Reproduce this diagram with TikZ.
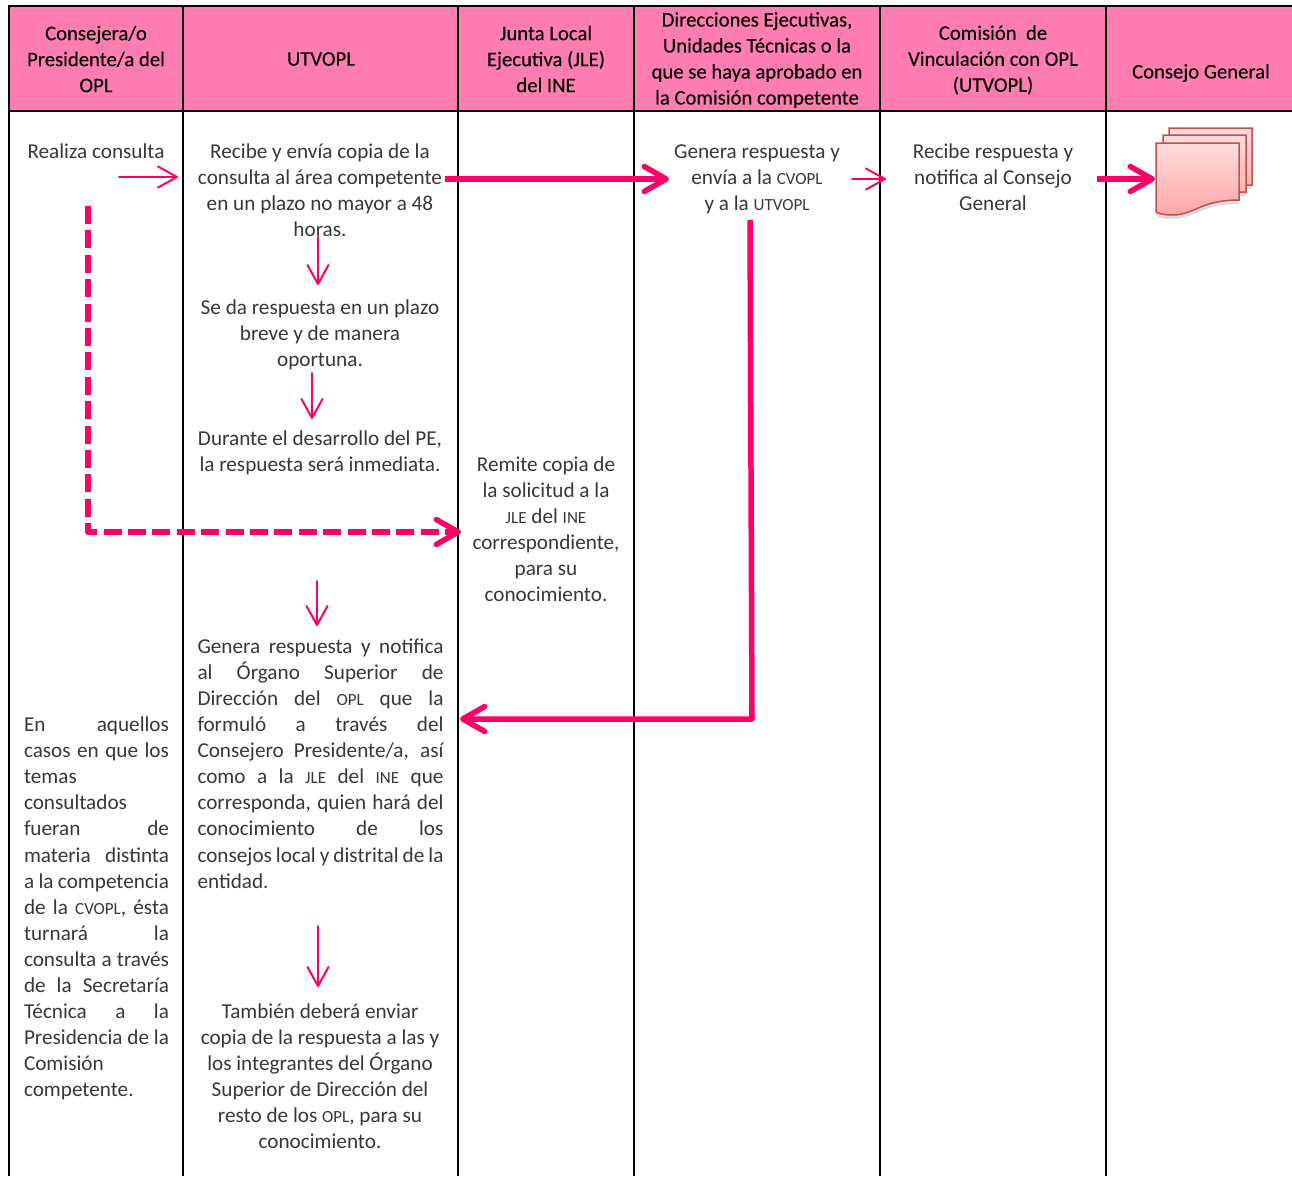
\documentclass[tikz,border=0pt]{standalone}
\usepackage{fontspec}
\setmainfont{Carlito}
\newfontfamily\headfont[FakeBold=0.15]{Carlito}
\usetikzlibrary{arrows.meta}
\usetikzlibrary{shadows}
\definecolor{headpink}{HTML}{FF7DB0}
\definecolor{arrowpink}{HTML}{FF0066}
\definecolor{bodygrey}{HTML}{383838}
\definecolor{pageedge}{HTML}{C0504D}
\definecolor{pagetop}{HTML}{FFDCDC}
\definecolor{pagebot}{HTML}{FFA6A6}
\newcommand{\sm}[1]{{\fontsize{17}{26}\selectfont #1}}
\tikzset{
  headtxt/.style={align=center,inner sep=0pt,text=black,font=\headfont\fontsize{20.7}{26}\selectfont},
  bodytxt/.style={align=center,inner sep=0pt,text=bodygrey,font=\fontsize{21.2}{26.1}\selectfont},
  justtxt/.style={inner sep=0pt,text=bodygrey,font=\fontsize{21.2}{26.07}\selectfont,align=justify},
  gridline/.style={black,line width=2.2pt},
  thinarrow/.style={arrowpink,line width=2pt,line cap=round,-{Straight Barb[length=19pt,width=21pt,round]}},
  thickarrow/.style={arrowpink,line width=5.5pt,line join=round,-{Straight Barb[length=22pt,width=25pt,round]}},
  docpage/.style={draw=pageedge,line width=1.5pt,top color=pagetop,bottom color=pagebot,drop shadow={shadow xshift=0pt,shadow yshift=-4pt,opacity=0.14,fill=black}},
}
\def\docshape{(1156,143) -- (1239,143) -- (1239,200) .. controls (1200,200) and (1195,215) .. (1172,215) .. controls (1165,215) and (1160,214) .. (1156,212) -- cycle}
\begin{document}
\begin{tikzpicture}[x=1pt,y=-1pt]
\useasboundingbox (0,0) rectangle (1292,1176);
\clip (0,0) rectangle (1292,1176);
\fill [white] (0,0) rectangle (1292,1176);

% header band and grid
\fill [headpink] (9,6) rectangle (1292,111);
\draw [gridline] (1292,6) -- (9,6) -- (9,1176);
\draw [gridline] (9,111) -- (1292,111);
\draw [gridline] (183,6) -- (183,1176);
\draw [gridline] (458,6) -- (458,1176);
\draw [gridline] (634,6) -- (634,1176);
\draw [gridline] (880,6) -- (880,1176);
\draw [gridline] (1106,6) -- (1106,1176);

\node [headtxt, name=h1] at (96,59) {Consejera/o\\Presidente/a del\\OPL};
\node [headtxt, name=h2] at (321,59) {UTVOPL};
\node [headtxt, name=h3] at (546,59) {Junta Local\\Ejecutiva (JLE)\\del INE};
\node [headtxt, name=h4] at (757,60) {Direcciones Ejecutivas,\\Unidades Técnicas o la\\que se haya aprobado en\\la Comisión competente};
\node [headtxt, name=h5] at (993,60) {Comisión\ \ de\\Vinculación con OPL\\(UTVOPL)};
\node [headtxt, name=h6] at (1201,73) {Consejo General};

\node [bodytxt, name=t1] at (96,151) {Realiza consulta};
\node [justtxt, text width=145pt, name=t2] at (96.5,908.5) {En aquellos\linebreak casos en que los\linebreak temas\\consultados\\fueran de\linebreak materia distinta\linebreak a la competencia\linebreak de la \sm{CVOPL}, ésta\linebreak turnará la\linebreak consulta a través\linebreak de la Secretaría\linebreak Técnica a la\linebreak \hbox to 145pt{Presidencia\hfil de\hfil la}\\Comisión\\competente.};
\node [bodytxt, name=u1] at (320,190) {Recibe y envía copia de la\\consulta al área competente\\en un plazo no mayor a 48\\horas.};
\node [bodytxt, name=u2] at (320,335) {Se da respuesta en un plazo\\breve y de manera\\oportuna.};
\node [bodytxt, name=u3] at (320,452.5) {Durante el desarrollo del PE,\\la respuesta será inmediata.};
\node [justtxt, text width=246pt, name=u4] at (320.5,763.5) {Genera respuesta y notifica\linebreak al Órgano Superior de\linebreak Dirección del \sm{OPL} que la\linebreak formuló a través del\linebreak Consejero Presidente/a, así\linebreak como a la \sm{JLE} del \sm{INE} que\linebreak corresponda, quien hará del\linebreak conocimiento de los\linebreak \hbox to 246pt{consejos\hfil local\hfil y\hfil distrital\hfil de\hfil la}\\entidad.};
\node [bodytxt, name=u5] at (320,1076) {También deberá enviar\\copia de la respuesta a las y\\los integrantes del Órgano\\Superior de Dirección del\\resto de los \sm{OPL}, para su\\conocimiento.};
\node [bodytxt, name=j1] at (546,529) {Remite copia de\\la solicitud a la\\\sm{JLE} del \sm{INE}\\correspondiente,\\para su\\conocimiento.};
\node [bodytxt, name=d1] at (757,179) {Genera respuesta y\\envía a la \sm{CVOPL}\\y a la \sm{UTVOPL}};
\node [bodytxt, name=c1] at (993,177) {Recibe respuesta y\\notifica al Consejo\\General};

% stacked document
\begin{scope}[shift={(13,-15)}]
\draw [docpage] \docshape;
\end{scope}
\begin{scope}[shift={(7,-8)}]
\draw [docpage] \docshape;
\end{scope}
\draw [docpage] \docshape;

% free ends of the arrows
\coordinate (a1) at (119,177);
\coordinate (a2) at (178,177);
\coordinate (b1) at (445,179);
\coordinate (b2) at (669,179);
\coordinate (c1s) at (852,179);
\coordinate (c1e) at (886,179);
\coordinate (e1) at (1097,179);
\coordinate (e2) at (1155,179);
\coordinate (f1) at (318,237);
\coordinate (f2) at (318,285);
\coordinate (g1) at (312,373);
\coordinate (g2) at (312,419);
\coordinate (k1) at (317,581);
\coordinate (k2) at (317,626);
\coordinate (m1) at (318,926);
\coordinate (m2) at (318,987);
\coordinate (p1) at (88,206);
\coordinate (p2) at (88,532);
\coordinate (p3) at (461,532);
\coordinate (q1) at (750,220);
\coordinate (q2) at (752,719);
\coordinate (q3) at (460,719);

\draw [thinarrow] (a1) to (a2);
\draw [thinarrow] (c1s) to (c1e);
\draw [thinarrow] (f1) to (f2);
\draw [thinarrow] (g1) to (g2);
\draw [thinarrow] (k1) to (k2);
\draw [thinarrow] (m1) to (m2);
\draw [thickarrow] (b1) to (b2);
\draw [thickarrow] (e1) to (e2);
\draw [thickarrow, dash pattern=on 18pt off 6.4pt] (p1) -- (p2) -- (p3);
\draw [thickarrow] (q1) -- (q2) -- (q3);
\end{tikzpicture}
\end{document}
